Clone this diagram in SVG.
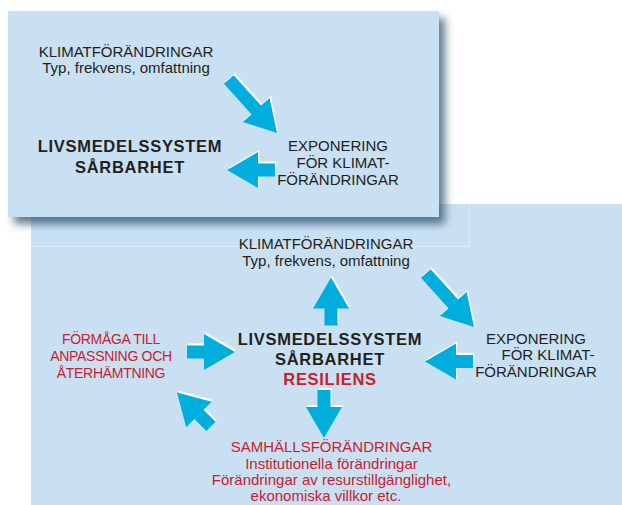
<svg xmlns="http://www.w3.org/2000/svg" xmlns:xlink="http://www.w3.org/1999/xlink" width="622" height="505" viewBox="0 0 622 505">
<style>
.box{fill:#c9e0f3}
.t{font-family:"Liberation Sans",Arial,sans-serif;font-size:15px;fill:#231f20;text-anchor:middle}
.b{font-weight:bold;font-size:16.5px;letter-spacing:0.7px}
.r{fill:#c8202f}
.s{font-size:14px;letter-spacing:-0.3px}
.arr{fill:#00aede}
.hl{fill:#ffffff}
</style>
<defs>
<filter id="sh" x="-10%" y="-10%" width="125%" height="130%">
<feDropShadow dx="6" dy="7" stdDeviation="4" flood-color="#2f4f6c" flood-opacity="0.75"/>
</filter>
<path id="a48" d="M0,0 L-31,-18 L-31,-6.5 L-48,-6.5 L-48,6.5 L-31,6.5 L-31,18 Z"/>
<path id="a72" d="M0,0 L-31,-18 L-31,-6.5 L-72,-6.5 L-72,6.5 L-31,6.5 L-31,18 Z"/>
</defs>
<rect width="622" height="505" fill="#ffffff"/>
<g id="bottom-panel">
<rect class="box" x="31" y="204" width="591" height="301"/>
<path d="M31,246.5 H469.5 V204" fill="none" stroke="#dcebf8" stroke-width="1"/>
</g>
<g id="top-panel">
<rect class="box" x="8" y="11" width="431" height="206" filter="url(#sh)"/>
</g>
<g id="top-klimat">
<text class="t" x="126" y="57">KLIMATFÖRÄNDRINGAR</text>
<text class="t" x="126" y="73">Typ, frekvens, omfattning</text>
</g>
<g id="top-system">
<text class="t b" x="130" y="152">LIVSMEDELSSYSTEM</text>
<text class="t b" x="130" y="172.5">SÅRBARHET</text>
</g>
<g id="top-expo">
<text class="t" x="338" y="151">EXPONERING</text>
<text class="t" x="343" y="168">FÖR KLIMAT-</text>
<text class="t" x="338" y="184.5">FÖRÄNDRINGAR</text>
</g>
<g id="klimat">
<text class="t" x="326" y="249">KLIMATFÖRÄNDRINGAR</text>
<text class="t" x="326" y="265.5">Typ, frekvens, omfattning</text>
</g>
<g id="system">
<text class="t b" x="330" y="345">LIVSMEDELSSYSTEM</text>
<text class="t b" x="330" y="365">SÅRBARHET</text>
<text class="t b r" x="330" y="385">RESILIENS</text>
</g>
<g id="expo">
<text class="t" x="536" y="343.5">EXPONERING</text>
<text class="t" x="548" y="360">FÖR KLIMAT-</text>
<text class="t" x="536" y="377">FÖRÄNDRINGAR</text>
</g>
<g id="formaga">
<text class="t r s" x="111" y="343.5">FÖRMÅGA TILL</text>
<text class="t r s" x="111" y="360.5">ANPASSNING OCH</text>
<text class="t r s" x="111" y="377.5">ÅTERHÄMTNING</text>
</g>
<g id="samhalle">
<text class="t r" x="331.5" y="451.5">SAMHÄLLSFÖRÄNDRINGAR</text>
<text class="t r" x="331.5" y="468.5">Institutionella förändringar</text>
<text class="t r" x="331.5" y="485">Förändringar av resurstillgänglighet,</text>
<text class="t r" x="326" y="501">ekonomiska villkor etc.</text>
</g>
<g id="connectors">
<use xlink:href="#a72" class="hl" transform="translate(278.2,131) rotate(48)"/>
<use xlink:href="#a72" class="arr" transform="translate(277,133) rotate(48)"/>
<use xlink:href="#a48" class="hl" transform="translate(228.2,168) rotate(180)"/>
<use xlink:href="#a48" class="arr" transform="translate(227,170) rotate(180)"/>
<use xlink:href="#a48" class="hl" transform="translate(332.2,275.5) rotate(-90)"/>
<use xlink:href="#a48" class="arr" transform="translate(331,277.5) rotate(-90)"/>
<use xlink:href="#a72" class="hl" transform="translate(475.2,325) rotate(48)"/>
<use xlink:href="#a72" class="arr" transform="translate(474,327) rotate(48)"/>
<use xlink:href="#a48" class="hl" transform="translate(426.2,359.5) rotate(180)"/>
<use xlink:href="#a48" class="arr" transform="translate(425,361.5) rotate(180)"/>
<use xlink:href="#a48" class="hl" transform="translate(236.2,350) rotate(0)"/>
<use xlink:href="#a48" class="arr" transform="translate(235,352) rotate(0)"/>
<use xlink:href="#a48" class="hl" transform="translate(178.2,390.5) rotate(225)"/>
<use xlink:href="#a48" class="arr" transform="translate(177,392.5) rotate(225)"/>
<use xlink:href="#a48" class="hl" transform="translate(325.2,436) rotate(90)"/>
<use xlink:href="#a48" class="arr" transform="translate(324,438) rotate(90)"/>
</g>
</svg>
